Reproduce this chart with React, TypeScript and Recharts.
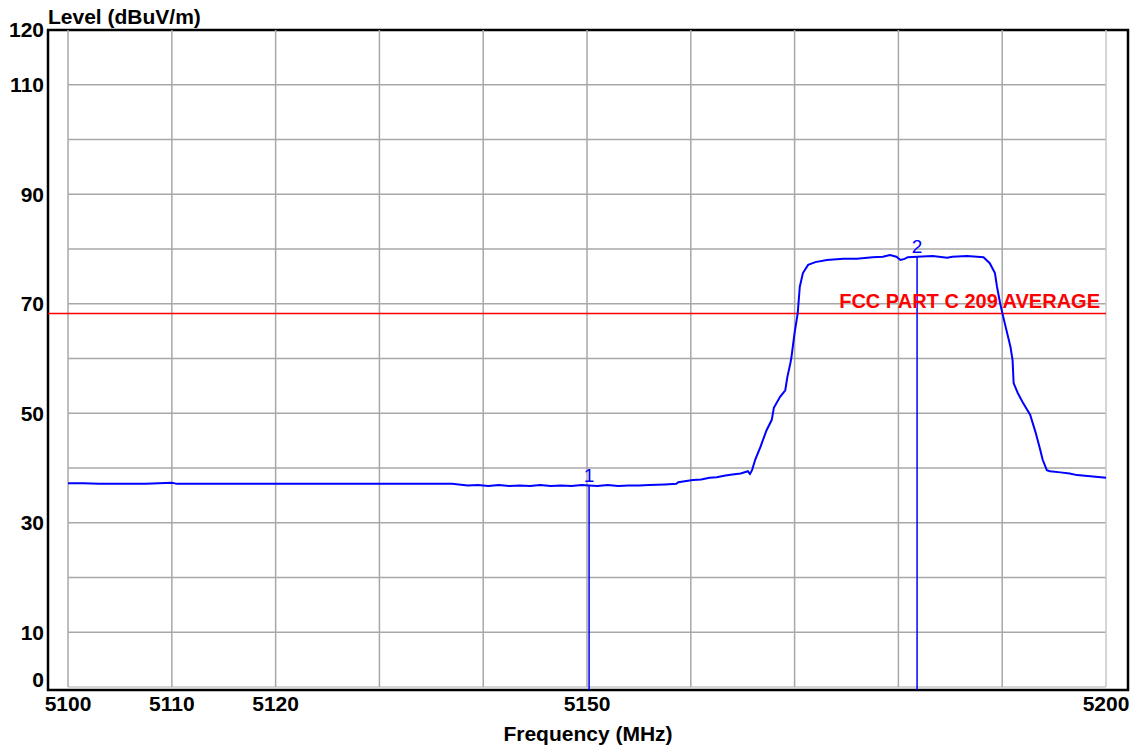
import { LineChart, Line, XAxis, YAxis, ReferenceLine, ReferenceArea, ReferenceDot } from 'recharts';

const freqMHz = [
  5100.0, 5101.5, 5103.0, 5105.0, 5107.5, 5110.0, 5110.5, 5113.0, 5116.0, 5119.0,
  5122.0, 5125.0, 5128.0, 5131.0, 5134.0, 5137.0, 5138.5, 5139.5, 5140.5, 5141.5,
  5142.5, 5143.5, 5144.5, 5145.5, 5146.5, 5147.5, 5148.5, 5149.5, 5150.2, 5151.0,
  5152.0, 5153.0, 5154.0, 5155.0, 5156.0, 5157.5, 5158.6, 5158.8, 5160.2, 5161.0,
  5161.8, 5162.5, 5163.2, 5164.0, 5164.8, 5165.5, 5165.7, 5165.9, 5166.2, 5166.7,
  5167.3, 5167.8, 5168.0, 5168.6, 5169.1, 5169.3, 5169.6, 5169.7, 5170.0, 5170.3,
  5170.5, 5170.8, 5171.3, 5172.0, 5173.1, 5174.7, 5176.0, 5177.5, 5178.5, 5179.2,
  5179.8, 5180.2, 5180.6, 5180.9, 5181.8, 5183.3, 5184.7, 5185.2, 5186.6, 5188.2,
  5188.8, 5189.3, 5189.5, 5189.8, 5190.1, 5190.8, 5191.0, 5191.1, 5191.5, 5192.0,
  5192.7, 5193.2, 5193.6, 5193.9, 5194.3, 5194.6, 5195.6, 5196.5, 5197.2, 5198.5,
  5200.0,
];

const levelDbuv = [
  37.2, 37.2, 37.1, 37.1, 37.1, 37.3, 37.1, 37.1, 37.1, 37.1,
  37.1, 37.1, 37.1, 37.1, 37.1, 37.1, 36.8, 36.9, 36.7, 36.9,
  36.7, 36.8, 36.7, 36.9, 36.7, 36.8, 36.7, 36.9, 36.8, 36.7,
  36.9, 36.7, 36.8, 36.8, 36.9, 37.0, 37.1, 37.4, 37.8, 37.9,
  38.2, 38.3, 38.6, 38.8, 39.0, 39.4, 38.9, 39.6, 41.5, 43.8,
  46.9, 48.8, 51.0, 53.0, 54.2, 56.6, 59.2, 60.3, 64.7, 68.3,
  73.1, 75.6, 77.1, 77.6, 78.0, 78.2, 78.2, 78.5, 78.6, 78.9,
  78.6, 78.0, 78.2, 78.5, 78.6, 78.7, 78.4, 78.6, 78.7, 78.5,
  77.4, 75.6, 73.1, 70.1, 67.6, 62.1, 59.7, 55.5, 53.7, 51.9,
  49.7, 46.6, 43.8, 41.5, 39.6, 39.4, 39.2, 39.0, 38.7, 38.5,
  38.2,
];

const xTicks = [5100, 5110, 5120, 5150, 5200];
const yTicks = [0, 10, 30, 50, 70, 90, 110, 120];
const xGrid = [5100, 5110, 5120, 5130, 5140, 5150, 5160, 5170, 5180, 5190, 5200];
const yGrid = [0, 10, 20, 30, 40, 50, 60, 70, 80, 90, 100, 110];

const limitLevel = 68.2;
const limitName = 'FCC PART C 209 AVERAGE';
const markerFreq = [5150.2, 5181.8];
const markerLevel = [36.8, 78.6];
const markerName = ['1', '2'];

const X_MIN = 5098.07;
const X_MAX = 5202.12;
const Y_MIN = -0.55;
const Y_MAX = 120;

const FONT = '"Liberation Sans", Arial, sans-serif';

const data = freqMHz.map((f, i) => ({ freq: f, level: levelDbuv[i] }));

function YTick(props: any) {
  const { x, y, payload } = props;
  const shift = payload.value === 0 ? -7 : 0;
  return (
    <text x={x} y={y + shift} dy="0.355em" textAnchor="end" fill="#000"
      fontSize={21} fontWeight="bold" fontFamily={FONT}>
      {payload.value}
    </text>
  );
}

export default function App() {
  return (
    <div style={{ position: 'absolute', left: 0, top: 0, width: 1146, height: 750, background: '#fff' }}>
      <div style={{
        position: 'absolute', left: 48, top: 6, fontFamily: FONT, fontWeight: 'bold',
        fontSize: 21, lineHeight: '21px', color: '#000',
      }}>
        Level (dBuV/m)
      </div>
      <LineChart width={1146} height={750} data={data}
        margin={{ top: 30, right: 18, left: 8, bottom: 5 }}>
        <XAxis type="number" dataKey="freq" domain={[X_MIN, X_MAX]} allowDataOverflow
          ticks={xTicks} tickLine={false} axisLine={false} tickSize={4} height={55}
          tick={{ fill: '#000', fontSize: 21, fontWeight: 'bold', fontFamily: FONT }}
          label={{ value: 'Frequency (MHz)', position: 'insideBottom', offset: 4,
            style: { fill: '#000', fontSize: 21, fontWeight: 'bold', fontFamily: FONT } }} />
        <YAxis type="number" domain={[Y_MIN, Y_MAX]} allowDataOverflow ticks={yTicks}
          width={40} tickLine={false} axisLine={false} tickSize={2} tickMargin={2}
          tick={<YTick />} />

        {yGrid.map((v) => (
          <ReferenceLine key={'h' + v} segment={[{ x: 5100, y: v }, { x: 5200, y: v }]}
            stroke={v === 0 ? '#c8c8c8' : '#a8a8a8'} strokeWidth={1.5} />
        ))}
        {xGrid.map((v) => (
          <ReferenceLine key={'v' + v} segment={[{ x: v, y: 0 }, { x: v, y: Y_MAX }]}
            stroke={v === 5200 ? '#c8c8c8' : '#a8a8a8'} strokeWidth={1.5} />
        ))}

        <ReferenceLine segment={[{ x: X_MIN, y: limitLevel }, { x: 5200, y: limitLevel }]}
          stroke="#ff0000" strokeWidth={1.5}
          label={{ value: limitName, position: 'insideBottomRight', offset: 6,
            style: { fill: '#ff0000', fontSize: 20, fontWeight: 'bold', fontFamily: FONT } }} />

        {markerFreq.map((f, i) => (
          <ReferenceLine key={'m' + i} segment={[{ x: f, y: Y_MIN }, { x: f, y: markerLevel[i] }]}
            stroke="#0000ff" strokeWidth={1.5} />
        ))}

        <Line type="linear" dataKey="level" stroke="#0000ff" strokeWidth={2} dot={false}
          isAnimationActive={false} />

        {markerFreq.map((f, i) => (
          <ReferenceDot key={'d' + i} x={f} y={markerLevel[i]} r={0} stroke="none" fill="none"
            label={{ value: markerName[i], position: 'top', offset: 4,
              style: { fill: '#0000ff', fontSize: 19, fontFamily: FONT } }} />
        ))}

        <ReferenceArea x1={X_MIN} x2={X_MAX} y1={Y_MIN} y2={Y_MAX} fill="none" fillOpacity={0}
          stroke="#000" strokeWidth={2.5} ifOverflow="visible" />
      </LineChart>
    </div>
  );
}
